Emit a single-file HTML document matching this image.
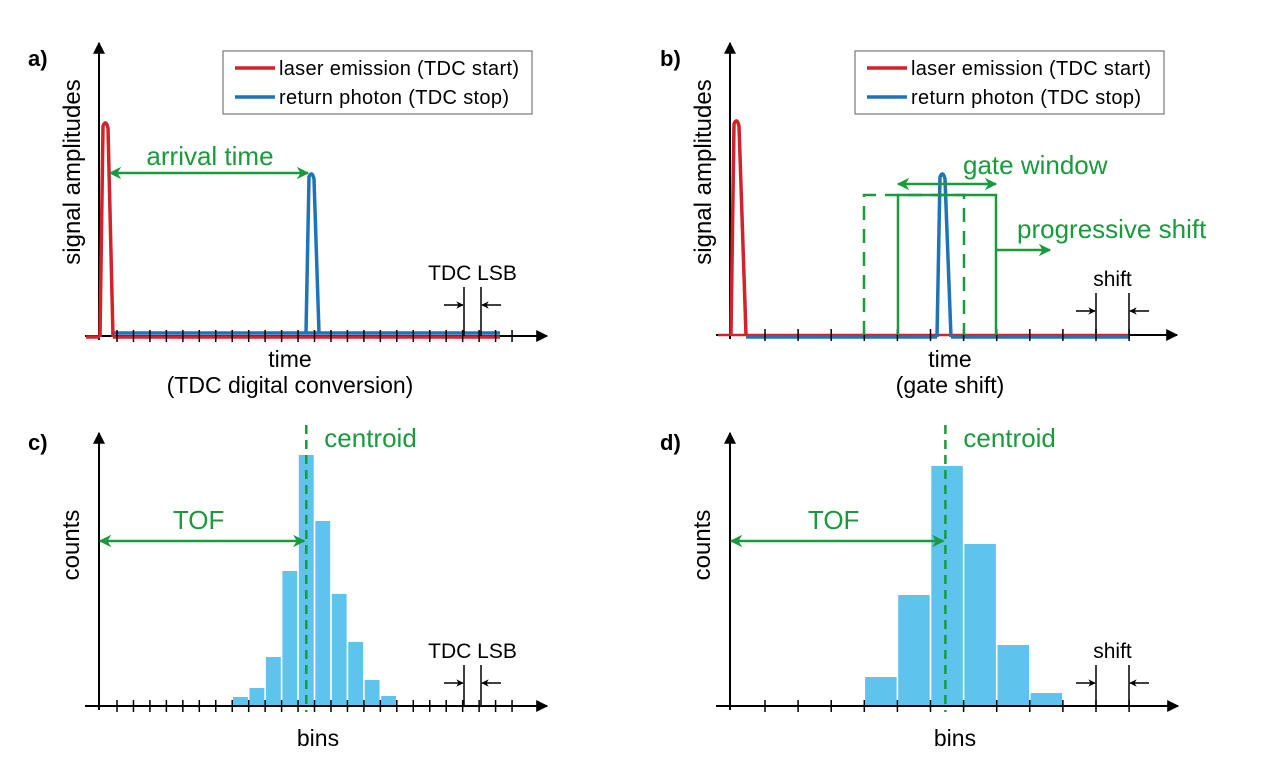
<!DOCTYPE html>
<html><head><meta charset="utf-8"><style>
body{margin:0;background:#fff}
svg{display:block;font-family:"Liberation Sans",sans-serif}
</style></head><body>
<svg id="fig" width="1277" height="770" viewBox="0 0 1277 770">
<defs>
<marker id="ah" viewBox="0 0 10 10" refX="9" refY="5" markerWidth="6" markerHeight="6" orient="auto-start-reverse"><path d="M0,0 L10,5 L0,10 z" fill="#000"/></marker>
<marker id="ahg" viewBox="0 0 10 10" refX="9" refY="5" markerWidth="5" markerHeight="5" orient="auto-start-reverse"><path d="M0,0 L10,5 L0,10 L3,5 z" fill="#1a9a3c"/></marker>
<marker id="ahs" viewBox="0 0 10 10" refX="9" refY="5" markerWidth="5" markerHeight="5" orient="auto-start-reverse"><path d="M0,0 L10,5 L0,10 L3,5 z" fill="#000"/></marker>
</defs>
</svg>
<script>
// Histogram data
const binsC = [9,18,49,135,251,185,112,64,26,10];
const binsD = [29,111,240,162,61,13];
const startBinC = 8;   // first filled bin index (panel c)
const startBinD = 4;   // first filled bin index (panel d)
const centroidC = 12.5;
const centroidD = 6.45;

const NS='http://www.w3.org/2000/svg';
const svg=document.getElementById('fig');
function el(tag,attrs,parent){const e=document.createElementNS(NS,tag);for(const k in attrs)e.setAttribute(k,attrs[k]);(parent||svg).appendChild(e);return e;}
function txt(s,attrs,parent){const t=el('text',attrs,parent);t.textContent=s;return t;}
const G='#1a9a3c', RED='#d2232a', BLUE='#1f73b7', BAR='#5ec4ee';

function axes(g,x0,y0,top,right){
  const a=el('line',{x1:x0,y1:y0+4,x2:x0,y2:top,stroke:'#000','stroke-width':2,'marker-end':'url(#ah)'},g);
  
  const b=el('line',{x1:x0-14,y1:y0,x2:right,y2:y0,stroke:'#000','stroke-width':2,'marker-end':'url(#ah)'},g);
  
}
function ticks(g,first,step,n,y0){
  for(let i=0;i<n;i++){const t=el('line',{x1:first+i*step,y1:y0-6,x2:first+i*step,y2:y0+6,stroke:'#000','stroke-width':1.5},g);
  }
}
function lsb(g,xa,xb,ytop,y0,ya,label){
  el('line',{x1:xa,y1:ytop,x2:xa,y2:y0,stroke:'#000','stroke-width':1.5},g);
  el('line',{x1:xb,y1:ytop,x2:xb,y2:y0,stroke:'#000','stroke-width':1.5},g);
  el('line',{x1:xa-20,y1:ya,x2:xa-1,y2:ya,stroke:'#000','stroke-width':1.5,'marker-end':'url(#ahs)'},g);
  el('line',{x1:xb+20,y1:ya,x2:xb+1,y2:ya,stroke:'#000','stroke-width':1.5,'marker-end':'url(#ahs)'},g);
  const t=txt(label,{x:(xa+xb)/2,y:ytop-7,'font-size':21,'text-anchor':'middle'},g);
  
}
function ylabel(g,s,x,y){const t=txt(s,{x:0,y:0,'font-size':24,'text-anchor':'middle',transform:`translate(${x},${y}) rotate(-90)`},g);
  }
function legend(g,x,y){
  const r=el('rect',{x:x,y:y,width:309,height:63,fill:'#fff',stroke:'#777','stroke-width':1.2},g);
  
  el('line',{x1:x+12,y1:y+17,x2:x+52,y2:y+17,stroke:RED,'stroke-width':3.5},g);
  const a=txt('laser emission (TDC start)',{x:x+56,y:y+24,'font-size':20,textLength:240},g);
  
  el('line',{x1:x+12,y1:y+46,x2:x+52,y2:y+46,stroke:BLUE,'stroke-width':3.5},g);
  const b=txt('return photon (TDC stop)',{x:x+56,y:y+53,'font-size':20,textLength:230},g);
  
}
function pulse(g,x1,x2,top,y0,color,name){
  const p=el('path',{d:`M${x1},${y0} L${x1+3},${top+4} Q${x1+6},${top-3} ${x1+8},${top+6} L${x2},${y0}`,fill:'none',stroke:color,'stroke-width':3.5,'stroke-linejoin':'round'},g);
  
}
function panelLabel(s,x,y){const t=txt(s,{x:x,y:y,'font-size':22,'font-weight':'bold'});
  }

// ---------- panel a ----------
const ga=el('g',{});
panelLabel('a)',28,66);
axes(ga,99,336,43,547);
el('line',{x1:86,y1:337,x2:100,y2:337,stroke:RED,'stroke-width':3.5},ga);
el('line',{x1:113,y1:337,x2:500,y2:337,stroke:RED,'stroke-width':3.5},ga);
el('line',{x1:113,y1:333,x2:500,y2:333,stroke:BLUE,'stroke-width':3.5},ga);
ticks(ga,117,16.46,25,336);
pulse(ga,100,113,122,337,RED,'laser-pulse');
pulse(ga,306,319,173,333,BLUE,'photon-pulse');
el('line',{x1:110,y1:173,x2:308,y2:173,stroke:G,'stroke-width':2.5,'marker-start':'url(#ahg)','marker-end':'url(#ahg)'},ga);
let t=txt('arrival time',{x:210,y:165,'font-size':26,fill:G,'text-anchor':'middle'},ga);

legend(ga,223,51);
lsb(ga,464,481,287,336,305,'TDC LSB');
ylabel(ga,'signal amplitudes',80,172);
t=txt('time',{x:290,y:367,'font-size':23,'text-anchor':'middle'},ga);
t=txt('(TDC digital conversion)',{x:290,y:393,'font-size':23,'text-anchor':'middle'},ga);

// ---------- panel b ----------
const gb=el('g',{});
panelLabel('b)',660,66);
axes(gb,730,335,43,1177);
el('line',{x1:718,y1:335,x2:1130,y2:335,stroke:RED,'stroke-width':2.5},gb);
el('line',{x1:746,y1:337,x2:937,y2:337,stroke:BLUE,'stroke-width':3.5},gb);
el('line',{x1:951,y1:337,x2:1130,y2:337,stroke:BLUE,'stroke-width':3.5},gb);
ticks(gb,765,33.1,12,335);
pulse(gb,731,746,120,335,RED,'laser-pulse');
pulse(gb,937,951,173,337,BLUE,'photon-pulse');
const dr=el('path',{d:'M864,335 L864,195 L964,195 L964,335',fill:'none',stroke:G,'stroke-width':2.5,'stroke-dasharray':'14,9'},gb);

const sr=el('path',{d:'M898,335 L898,195 L996,195 L996,335',fill:'none',stroke:G,'stroke-width':2.5},gb);

el('line',{x1:898,y1:184,x2:996,y2:184,stroke:G,'stroke-width':2.5,'marker-start':'url(#ahg)','marker-end':'url(#ahg)'},gb);
t=txt('gate window',{x:963,y:174,'font-size':26,fill:G},gb);
el('line',{x1:996,y1:250,x2:1050,y2:250,stroke:G,'stroke-width':2.5,'marker-end':'url(#ahg)'},gb);
t=txt('progressive shift',{x:1017,y:238,'font-size':26,fill:G},gb);
legend(gb,855,51);
lsb(gb,1096,1129,293,335,311,'shift');
ylabel(gb,'signal amplitudes',711,172);
t=txt('time',{x:950,y:367,'font-size':23,'text-anchor':'middle'},gb);
t=txt('(gate shift)',{x:950,y:393,'font-size':23,'text-anchor':'middle'},gb);

// ---------- histogram panels ----------
function hist(name,label,lx,x0,y0,first,step,nt,data,startBin,centroid,scale,lsbA,lsbB,lsbLabel,binsX){
  const g=el('g',{});
  panelLabel(label,lx,450);
  const xs=i=>first+(i-1)*step; // bin i left edge (tick index)
  data.forEach((v,i)=>{
    const xl=xs(startBin+i), h=v*scale;
    const r=el('rect',{x:xl+0.8,y:y0-h,width:step-1.6,height:h,fill:BAR},g);
    
    
  });
  axes(g,x0,y0,433,547+(x0-99));
  ticks(g,first,step,nt,y0);
  const cx=xs(centroid);
  const c=el('line',{x1:cx,y1:425,x2:cx,y2:712,stroke:G,'stroke-width':2.5,'stroke-dasharray':'9,6'},g);
  
  let t=txt('centroid',{x:cx+18,y:447,'font-size':26,fill:G},g);
  el('line',{x1:x0+1,y1:541,x2:cx-2,y2:541,stroke:G,'stroke-width':2.5,'marker-start':'url(#ahg)','marker-end':'url(#ahg)'},g);
  t=txt('TOF',{x:(x0+cx)/2-4,y:529,'font-size':26,fill:G,'text-anchor':'middle'},g);
  lsb(g,lsbA,lsbB,665,y0,683,lsbLabel);
  ylabel(g,'counts',x0-20,545);
  t=txt('bins',{x:binsX,y:746,'font-size':23,'text-anchor':'middle'},g);
}
hist('panel-c','c)',28,99,706,117,16.46,25,binsC,startBinC,centroidC,1,464,481,'TDC LSB',318);
hist('panel-d','d)',660,730,706,765,33.1,12,binsD,startBinD,centroidD,1,1096,1129,'shift',955);
</script>
</body></html>
